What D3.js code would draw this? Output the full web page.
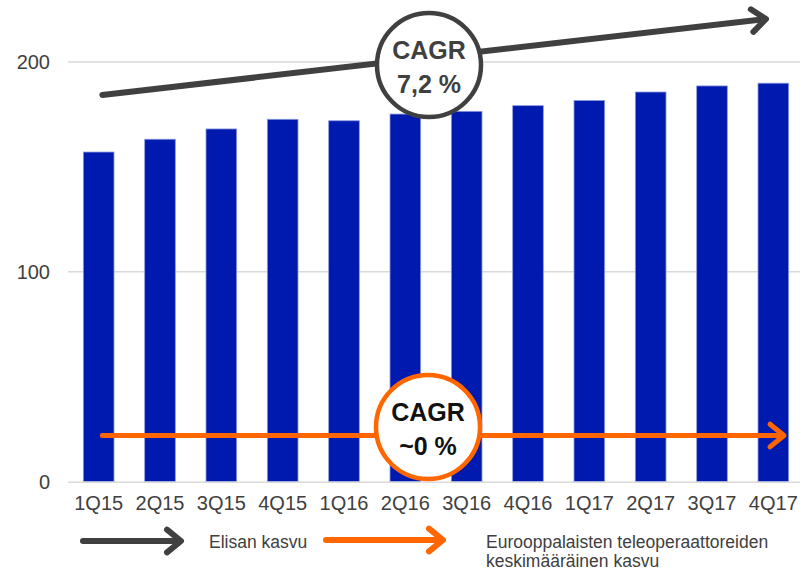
<!DOCTYPE html>
<html>
<head>
<meta charset="utf-8">
<script src="https://cdn.jsdelivr.net/npm/d3@7"></script>
<style>
  body { margin: 0; background: #fff; }
  text { font-family: Arial, "Liberation Sans", sans-serif; }
</style>
</head>
<body>
<div id="chart"></div>
<script>
// data
var quarters = ["1Q15", "2Q15", "3Q15", "4Q15", "1Q16", "2Q16", "3Q16", "4Q16", "1Q17", "2Q17", "3Q17", "4Q17"]
var values = [157.1, 163.2, 168.1, 172.7, 172.0, 175.2, 176.5, 179.2, 181.7, 185.7, 188.6, 189.9]
var yTicks = [0, 100, 200]
var legendLabels = ["Elisan kasvu", "Eurooppalaisten teleoperaattoreiden", "keskimääräinen kasvu"]

var width = 802, height = 571

var svg = d3.select("#chart")
  .append("svg")
  .attr("width", width)
  .attr("height", height)

var x = d3.scaleBand()
  .domain(quarters)
  .range([68, 804])
  .paddingInner(0.5)
  .paddingOuter(0.25)

var y = d3.scaleLinear()
  .domain([0, 200])
  .range([481.7, 62])

// gridlines
svg.append("g")
  .selectAll("line")
  .data(yTicks.filter(function(d) { return d > 0 }))
  .enter()
  .append("line")
    .attr("x1", 68).attr("x2", 800)
    .attr("y1", function(d) { return y(d) })
    .attr("y2", function(d) { return y(d) })
    .style("stroke", "#d9d9d9")
    .style("stroke-width", 1.5)

// y axis labels
var yAxis = svg.append("g")
  .attr("transform", "translate(50,0)")
  .call(d3.axisLeft(y).tickValues(yTicks).tickSize(0).tickPadding(0))
yAxis.select(".domain").remove()
yAxis.selectAll("text")
  .style("font-size", "20px")
  .style("fill", "#404040")
  .style("font-family", "Arial, 'Liberation Sans', sans-serif")

// bars
svg.selectAll(".bar")
  .data(values)
  .enter()
  .append("rect")
    .attr("class", "bar")
    .attr("x", function(d, i) { return x(quarters[i]) })
    .attr("y", function(d) { return y(d) })
    .attr("width", x.bandwidth())
    .attr("height", function(d) { return y(0) - y(d) })
    .style("fill", "#001aaf")
    .style("stroke", "#8d9be0")
    .style("stroke-width", 0.8)

// baseline
svg.append("line")
  .attr("x1", 68).attr("x2", 800)
  .attr("y1", y(0) + 0.5).attr("y2", y(0) + 0.5)
  .style("stroke", "#d9d9d9")
  .style("stroke-width", 1.5)

// x axis labels
var xAxis = svg.append("g")
  .attr("transform", "translate(0," + y(0) + ")")
  .call(d3.axisBottom(x).tickSize(0).tickPadding(14))
xAxis.select(".domain").remove()
xAxis.selectAll("text")
  .style("font-size", "20px")
  .style("fill", "#404040")
  .style("font-family", "Arial, 'Liberation Sans', sans-serif")

// arrow helper: shaft + open head
function arrow(g, x1, y1, x2, y2, color, w) {
  var ang = Math.atan2(y2 - y1, x2 - x1)
  var hl = 18, ha = 0.68
  g.append("line")
    .attr("x1", x1).attr("y1", y1).attr("x2", x2 - 2 * Math.cos(ang)).attr("y2", y2 - 2 * Math.sin(ang))
    .style("stroke", color).style("stroke-width", w).style("stroke-linecap", "round")
  var p = d3.path()
  p.moveTo(x2 - hl * Math.cos(ang - ha), y2 - hl * Math.sin(ang - ha))
  p.lineTo(x2, y2)
  p.lineTo(x2 - hl * Math.cos(ang + ha), y2 - hl * Math.sin(ang + ha))
  g.append("path")
    .attr("d", p.toString())
    .style("fill", "none").style("stroke", color).style("stroke-width", w)
    .style("stroke-linecap", "round").style("stroke-linejoin", "round")
}

var dark = "#404040", orange = "#ff6600"
var ann = svg.append("g")

// Elisa growth arrow
arrow(ann, x("1Q15") + 19, y(184.3), x("4Q17") + 8, y(220.5), dark, 6)
// European average arrow
arrow(ann, x("1Q15") + 19, y(22), x("4Q17") + 26, y(22), orange, 5)

function badge(cx, cy, color, txtColor, lines) {
  ann.append("circle")
    .attr("cx", cx).attr("cy", cy).attr("r", 52)
    .style("fill", "#fff").style("stroke", color).style("stroke-width", 4.5)
  ann.selectAll(null)
    .data(lines)
    .enter()
    .append("text")
      .attr("x", cx)
      .attr("y", function(d, i) { return cy - 6 + i * 34 })
      .attr("text-anchor", "middle")
      .style("font-size", "25px")
      .style("font-weight", "bold")
      .style("fill", txtColor)
      .text(function(d) { return d })
}

badge(429, 65, dark, dark, ["CAGR", "7,2 %"])
badge(428, 427, orange, "#111", ["CAGR", "~0 %"])

// legend
var leg = svg.append("g")
arrow(leg, 83, 541, 181, 541, dark, 6)
arrow(leg, 326, 540, 443, 540, orange, 6)
leg.append("text")
  .attr("x", 209).attr("y", 548)
  .style("font-size", "17.5px").style("fill", "#404040")
  .text(legendLabels[0])
leg.selectAll(".l2")
  .data(legendLabels.slice(1))
  .enter()
  .append("text")
    .attr("x", 486)
    .attr("y", function(d, i) { return 548 + i * 19 })
    .style("font-size", "17.5px").style("fill", "#404040")
    .text(function(d) { return d })
</script>
</body>
</html>
